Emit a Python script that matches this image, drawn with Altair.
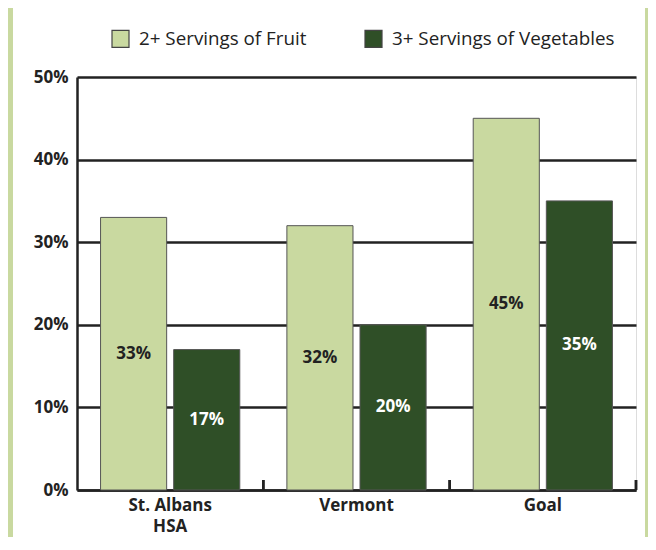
import altair as alt
import pandas as pd

categories = ["St. Albans|HSA", "Vermont", "Goal"]
series = ["2+ Servings of Fruit", "3+ Servings of Vegetables"]
fruit = [33, 32, 45]
vegetables = [17, 20, 35]
y_ticks = [0, 10, 20, 30, 40, 50]

rows = []
for c, f, v in zip(categories, fruit, vegetables):
    rows.append({"category": c, "series": series[0], "value": f})
    rows.append({"category": c, "series": series[1], "value": v})
df = pd.DataFrame(rows)

LIGHT = "#C9D9A0"
DARK = "#2F4F27"
INK = "#222222"

W, H = 559, 413

x_enc = alt.X(
    "category:N",
    sort=categories,
    scale=alt.Scale(paddingInner=0, paddingOuter=0),
    axis=alt.Axis(
        title=None,
        labelAngle=0,
        labelExpr="split(datum.label, '|')",
        labelFont="Open Sans",
        labelFontWeight="bold",
        labelFontSize=17,
        labelColor=INK,
        labelPadding=7,
        labelLineHeight=21,
        ticks=False,
        domainColor=INK,
        domainWidth=2.5,
        grid=False,
    ),
)
xoff = alt.XOffset("series:N", sort=series,
                   scale=alt.Scale(paddingInner=0.096, paddingOuter=0.322))

y_enc = alt.Y(
    "value:Q",
    scale=alt.Scale(domain=[0, 50]),
    axis=alt.Axis(
        title=None,
        values=y_ticks,
        labelExpr="datum.value + '%'",
        labelFont="Open Sans",
        labelFontWeight="bold",
        labelFontSize=17,
        labelColor=INK,
        labelPadding=9,
        ticks=False,
        domainColor=INK,
        domainWidth=2.5,
        grid=True,
        gridColor=INK,
        gridWidth=2.5,
        gridOpacity=1,
    ),
)

base = alt.Chart(df)

bars = base.mark_bar(stroke="#555555", strokeWidth=1).encode(
    x=x_enc,
    xOffset=xoff,
    y=y_enc,
    color=alt.Color(
        "series:N",
        sort=series,
        scale=alt.Scale(domain=series, range=[LIGHT, DARK]),
        legend=alt.Legend(
            title=None,
            orient="none",
            direction="horizontal",
            legendX=34,
            legendY=-48,
            padding=0,
            symbolType="square",
            symbolSize=289,
            symbolStrokeColor="#444444",
            symbolStrokeWidth=1.2,
            labelFont="Open Sans",
            labelFontSize=18.8,
            labelColor=INK,
            labelOffset=9,
            labelLimit=0,
            columnPadding=55,
        ),
    ),
)

labels = base.transform_calculate(mid="datum.value / 2").mark_text(
    font="Open Sans", fontWeight="bold", fontSize=17, baseline="middle"
).encode(
    x=alt.X("category:N", sort=categories),
    xOffset=xoff,
    y=alt.Y("mid:Q"),
    text=alt.Text("label:N"),
    color=alt.condition(alt.datum.series == series[1], alt.value("white"), alt.value(INK)),
).transform_calculate(label="datum.value + '%'")

ticks = base.mark_rule(color=INK, strokeWidth=2.5).encode(
    x=alt.X("category:N", sort=categories, bandPosition=1),
    y=alt.value(H),
    y2=alt.value(H - 10),
)

frame_data = alt.Data(values=[{"k": 1}])
left_strip = alt.Chart(frame_data).mark_rect(color=LIGHT).encode(
    x=alt.value(-69), x2=alt.value(-64), y=alt.value(-69), y2=alt.value(470)
)
right_strip = alt.Chart(frame_data).mark_rect(color=LIGHT).encode(
    x=alt.value(568), x2=alt.value(571), y=alt.value(-69), y2=alt.value(470)
)

chart = alt.layer(bars, labels, ticks, left_strip, right_strip).properties(
    width=W,
    height=H,
    padding={"left": 69, "top": 69, "right": 12, "bottom": 47},
    autosize=alt.AutoSizeParams(type="none"),
    background="white",
).configure_view(stroke=None).configure(font="Open Sans")

chart.save("out.html", embed_options={"renderer": "svg", "actions": False})
